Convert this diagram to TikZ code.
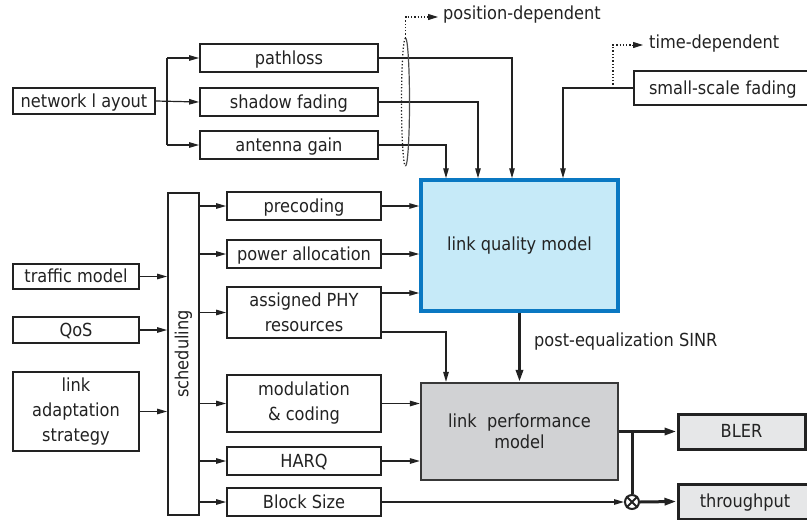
\documentclass[tikz,border=0pt]{standalone}
\usepackage{fontspec}
\setmainfont{DejaVu Sans Condensed}
\usetikzlibrary{arrows.meta}
\definecolor{txt}{HTML}{222222}
\definecolor{lqfill}{HTML}{C6EAF8}
\definecolor{lqline}{HTML}{0A78C2}
\definecolor{lpfill}{HTML}{D1D2D4}
\definecolor{outfill}{HTML}{E6E7E8}
\tikzset{
  box/.style={draw=txt, line width=1.8pt, fill=white, inner sep=0pt, align=center, text=txt, font=\fontsize{18}{25}\selectfont},
  one/.style={text height=16pt, text depth=4pt},
  arr/.style={draw=txt, line width=1.2pt, -{Triangle[length=10pt,width=5.5pt]}},
  ln/.style={draw=txt, line width=1.2pt},
  thk/.style={draw=txt, line width=3pt, -{Triangle[length=12pt,width=7pt]}},
  thkln/.style={draw=txt, line width=3pt},
  dotl/.style={draw=txt, line width=1.3pt, dotted},
  lbl/.style={text=txt, font=\fontsize{18}{21}\selectfont, inner sep=0pt, anchor=west}
}
\begin{document}
\begin{tikzpicture}[x=1pt,y=-1pt]
\useasboundingbox (0,0) rectangle (807,520);
% boxes
\node[box, one, minimum width=142, minimum height=26] (netlay) at (84,101) {network l ayout};
\node[box, one, minimum width=178, minimum height=28] (pathloss) at (289,58) {pathloss};
\node[box, one, minimum width=178, minimum height=28] (shadow) at (289,102) {shadow fading};
\node[box, one, minimum width=178, minimum height=28] (antenna) at (289,145) {antenna gain};
\node[box, one, minimum width=178, minimum height=34, text width=158, align=left] (ssf) at (723,88) {\hspace*{5pt}small-scale fading};
\node[box, draw=lqline, fill=lqfill, line width=3.5pt, minimum width=197, minimum height=131] (lqm) at (519.5,245.5) {link quality model};
\node[box, minimum width=31, minimum height=322] (sched) at (183.5,354) {};
\node[text=txt, font=\fontsize{18}{21}\selectfont, rotate=90, inner sep=0pt] (schedtxt) at (sched.center) {scheduling};
\node[box, one, minimum width=154, minimum height=28] (precoding) at (304,206) {precoding};
\node[box, one, minimum width=154, minimum height=28] (power) at (304,254) {power allocation};
\node[box, minimum width=154, minimum height=51] (phy) at (304,312.5) {assigned PHY\\resources};
\node[box, one, minimum width=126, minimum height=25] (traffic) at (76,276.5) {traffic model};
\node[box, one, minimum width=126, minimum height=26] (qos) at (76,330) {QoS};
\node[box, minimum width=126, minimum height=79] (las) at (76,411.5) {link\\adaptation\\strategy};
\node[box, minimum width=154, minimum height=57] (modcod) at (304,403.5) {modulation\\\& coding};
\node[box, one, minimum width=154, minimum height=28] (harq) at (304,461) {HARQ};
\node[box, one, minimum width=154, minimum height=28] (blocksize) at (304,502) {Block Size};
\node[box, draw=txt!90, fill=lpfill, line width=2.2pt, minimum width=197, minimum height=97, font=\fontsize{18}{21}\selectfont] (lpm) at (519.5,431.5) {link\ \ performance\\model};
\node[box, one, fill=outfill, line width=3pt, minimum width=127, minimum height=35] (bler) at (741.5,431.5) {BLER};
\node[box, one, fill=outfill, line width=3pt, minimum width=134, minimum height=35, text width=127] (thr) at (745,501.5) {throughput};
\node[circle, draw=txt, fill=white, line width=2pt, minimum size=14, inner sep=0pt] (ot) at (632,502) {};
\draw[txt, line width=1.8pt] (ot.45) -- (ot.225) (ot.135) -- (ot.-45);
% network layout branches
\coordinate (nlb) at (167,101);
\draw[arr] (netlay.east) -- (shadow.west);
\draw[ln] (nlb |- pathloss.west) -- (nlb |- antenna.west);
\draw[arr] (nlb |- pathloss.west) -- (pathloss.west);
\draw[arr] (nlb |- antenna.west) -- (antenna.west);
% into link quality model from top
\draw[arr] (pathloss.east) -| ([xshift=-7.5pt]lqm.north);
\draw[arr] (shadow.east) -| ([xshift=-41.5pt]lqm.north);
\draw[arr] (antenna.east) -| ([xshift=-73.5pt]lqm.north);
\draw[arr] (ssf.west) -| ([xshift=43.5pt]lqm.north);
% ellipse and position-dependent
\coordinate (eltop) at (405.5,38);
\draw[txt!80, line width=1.2pt] (eltop) arc[start angle=-90, end angle=90, x radius=4, y radius=64];
\draw[dotl] (eltop) arc[start angle=-90, end angle=-270, x radius=4, y radius=64];
\coordinate (pd) at (405.5,17);
\draw[dotl] (eltop) -- (pd) -- (428,17);
\node[lbl] (pdtxt) at (443,15) {position-dependent};
\draw[txt, -{Triangle[length=10pt,width=6pt]}, line width=1pt] (427,17) -- (438,17);
% time-dependent
\coordinate (tdb) at (613,88);
\coordinate (tdt) at (613,45);
\draw[dotl] (tdb) -- (tdt) -- (633,45);
\draw[txt, -{Triangle[length=10pt,width=6pt]}, line width=1pt] (632,45) -- (643,45);
\node[lbl] (tdtxt) at (649,44) {time-dependent};
% scheduling outputs
\draw[arr] (sched.east |- precoding.west) -- (precoding.west);
\draw[arr] (sched.east |- power.west) -- (power.west);
\draw[arr] (sched.east |- phy.west) -- (phy.west);
\draw[arr] (sched.east |- modcod.west) -- (modcod.west);
\draw[arr] (sched.east |- harq.west) -- (harq.west);
\draw[arr] (sched.east |- blocksize.west) -- (blocksize.west);
% scheduling inputs
\draw[arr] (traffic.east) -- (sched.west |- traffic.east);
\draw[arr] (qos.east) -- (sched.west |- qos.east);
\draw[arr] (las.east) -- (sched.west |- las.east);
% into lqm from left
\draw[arr] (precoding.east) -- (lqm.west |- precoding.east);
\draw[arr] (power.east) -- (lqm.west |- power.east);
\coordinate (phyt) at ([yshift=19.5pt]phy.east);
\coordinate (phyb) at ([yshift=-19.5pt]phy.east);
\draw[arr] (phyt) -- (lqm.west |- phyt);
\draw[arr] (phyb) -| ([xshift=-73.5pt]lpm.north);
% lqm to lpm
\draw[thk] (lqm.south) -- (lpm.north);
\node[lbl] (sinr) at (534,342) {post-equalization SINR};
% into lpm from left
\draw[arr] (modcod.east) -- (lpm.west |- modcod.east);
\draw[arr] (harq.east) -- (lpm.west |- harq.east);
\draw[arr] (blocksize.east) -- (ot.west);
% outputs
\draw[thk] (lpm.east) -- (bler.west);
\draw[thkln] (ot.north) -- (ot.north |- lpm.east);
\draw[thk] (ot.east) -- (thr.west);
\end{tikzpicture}
\end{document}
